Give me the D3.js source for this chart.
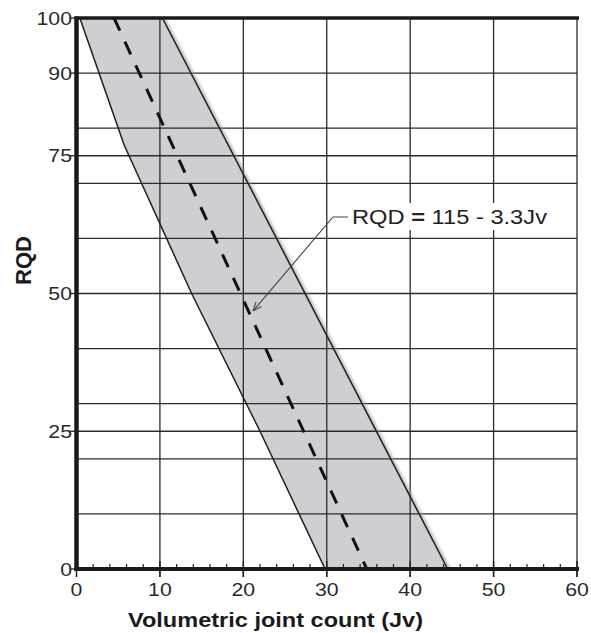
<!DOCTYPE html>
<html>
<head>
<meta charset="utf-8">
<script src="https://cdn.jsdelivr.net/npm/d3@7/dist/d3.min.js"></script>
<style>
  html, body { margin: 0; padding: 0; background: #fff; }
  svg { display: block; }
  text { font-family: "Liberation Sans", Arial, sans-serif; }
</style>
</head>
<body>
<svg id="chart" width="591" height="633"></svg>
<script>
// ---- data ----
const xTickValues = [0, 10, 20, 30, 40, 50, 60];
const xMinorTicks = [2,4,6,8,12,14,16,18,22,24,26,28,32,34,36,38,42,44,46,48,52,54,56,58];
const yTickValues = [0, 25, 50, 75, 90, 100];
const yGridValues = [0, 10, 20, 25, 30, 40, 50, 60, 70, 75, 80, 90, 100];
const xGridValues = [10, 20, 30, 40, 50, 60];

// lower-left boundary of the band
const lowerJv  = [0.4, 5.7, 13.8, 22.0, 29.8];
const lowerRQD = [100, 77, 50, 25, 0];
// upper-right boundary of the band
const upperJv  = [10.3, 44.5];
const upperRQD = [100, 0];
// mean relation RQD = 115 - 3.3Jv
const trendJv  = [4.5, 34.8];
const trendRQD = [100, 0];

const equationLabel = ["RQD ", "=", " 115 - 3.3Jv"];
const xTitle = "Volumetric joint count (Jv)";
const yTitle = "RQD";

// ---- layout ----
const svg = d3.select("#chart");
const x = d3.scaleLinear().domain([0, 60]).range([76.5, 577]);
const y = d3.scaleLinear().domain([0, 100]).range([569, 18]);

const defs = svg.append("defs");
defs.append("filter").attr("id", "blur").append("feGaussianBlur").attr("stdDeviation", 1.2);
defs.append("marker").attr("id", "arrow")
  .attr("viewBox", "0 0 10 10").attr("refX", 10).attr("refY", 5)
  .attr("markerWidth", 9).attr("markerHeight", 9).attr("orient", "auto")
  .attr("markerUnits", "userSpaceOnUse")
  .append("path").attr("d", "M0,1 L10,5 L0,9").attr("fill", "none")
  .attr("stroke", "#444").attr("stroke-width", 1.2);

// band polygon
const lowerPts = lowerJv.map((v, i) => [v, lowerRQD[i]]);
const upperPts = upperJv.map((v, i) => [v, upperRQD[i]]);
const bandPts = lowerPts.concat(upperPts.slice().reverse());
const line = d3.line().x(d => x(d[0])).y(d => y(d[1]));

svg.append("path").attr("d", line(bandPts) + "Z").attr("fill", "#cfcfd3");

// gridlines
svg.append("g").selectAll("line").data(yGridValues).join("line")
  .attr("x1", x(0)).attr("x2", x(60))
  .attr("y1", d => y(d)).attr("y2", d => y(d))
  .attr("stroke", "#2b2b2b").attr("stroke-width", 1.3);
svg.append("g").selectAll("line").data(xGridValues).join("line")
  .attr("x1", d => x(d)).attr("x2", d => x(d))
  .attr("y1", y(100)).attr("y2", y(0) + 8)
  .attr("stroke", "#2b2b2b").attr("stroke-width", 1.3);

// label background
svg.append("rect").attr("x", 349).attr("y", 203).attr("width", 202).attr("height", 27).attr("fill", "#fff");

// band edges
svg.append("path").attr("d", line(upperPts)).attr("fill", "none")
  .attr("stroke", "#999").attr("stroke-width", 3).attr("opacity", 0.6)
  .attr("transform", "translate(1.5,0)").attr("filter", "url(#blur)");
svg.append("path").attr("d", line(lowerPts)).attr("fill", "none")
  .attr("stroke", "#1e1e1e").attr("stroke-width", 1.5);
svg.append("path").attr("d", line(upperPts)).attr("fill", "none")
  .attr("stroke", "#1e1e1e").attr("stroke-width", 1.5);

// trend (dashed)
svg.append("path").attr("d", line(trendJv.map((v, i) => [v, trendRQD[i]])))
  .attr("fill", "none").attr("stroke", "#111").attr("stroke-width", 3)
  .attr("stroke-dasharray", "14,12");

// x axis minor ticks
svg.append("g").selectAll("line").data(xMinorTicks).join("line")
  .attr("x1", d => x(d)).attr("x2", d => x(d))
  .attr("y1", y(0) - 5).attr("y2", y(0))
  .attr("stroke", "#222").attr("stroke-width", 1.2);
svg.append("g").selectAll("line").data(xTickValues).join("line")
  .attr("x1", d => x(d)).attr("x2", d => x(d))
  .attr("y1", y(0) - 8).attr("y2", y(0) + 8)
  .attr("stroke", "#222").attr("stroke-width", 1.5);

// y ticks
svg.append("g").selectAll("line").data(yTickValues).join("line")
  .attr("x1", x(0) - 7).attr("x2", x(0))
  .attr("y1", d => y(d)).attr("y2", d => y(d))
  .attr("stroke", "#222").attr("stroke-width", 1.3);

// frame
svg.append("line").attr("x1", x(0) - 2).attr("x2", x(60) + 2).attr("y1", y(100)).attr("y2", y(100))
  .attr("stroke", "#1a1a1a").attr("stroke-width", 3.5);
svg.append("line").attr("x1", x(0)).attr("x2", x(0)).attr("y1", y(100) - 1.5).attr("y2", y(0) + 2)
  .attr("stroke", "#1a1a1a").attr("stroke-width", 4.5);
svg.append("line").attr("x1", x(0) - 2).attr("x2", x(60) + 2).attr("y1", y(0)).attr("y2", y(0))
  .attr("stroke", "#1a1a1a").attr("stroke-width", 4);

// tick labels (slightly widened glyphs like the reference)
svg.append("g").selectAll("text").data(xTickValues).join("text")
  .attr("transform", d => `translate(${x(d)},596) scale(1.15,1)`)
  .attr("text-anchor", "middle").attr("font-size", 18.5).attr("fill", "#2a2a2a")
  .text(d => d);
svg.append("g").selectAll("text").data(yTickValues).join("text")
  .attr("transform", d => `translate(72,${y(d) + 6.5}) scale(1.15,1)`)
  .attr("text-anchor", "end").attr("font-size", 18.5).attr("fill", "#2a2a2a")
  .text(d => d);

// axis titles
svg.append("text").attr("x", 128).attr("y", 627)
  .attr("textLength", 295).attr("lengthAdjust", "spacingAndGlyphs")
  .attr("font-size", 20).attr("font-weight", "bold").attr("fill", "#1a1a1a").text(xTitle);
svg.append("text").attr("transform", "translate(31,285) rotate(-90)")
  .attr("textLength", 49).attr("lengthAdjust", "spacingAndGlyphs")
  .attr("font-size", 22).attr("font-weight", "bold").attr("fill", "#1a1a1a").text(yTitle);

// equation label + arrow
const lbl = svg.append("text").attr("x", 352).attr("y", 224).attr("font-size", 20).attr("fill", "#222")
  .attr("textLength", 195).attr("lengthAdjust", "spacingAndGlyphs");
lbl.selectAll("tspan").data(equationLabel).join("tspan")
  .attr("font-weight", (d, i) => i === 1 ? "bold" : "normal")
  .text(d => d);
svg.append("path").attr("d", "M348,217 L333,217 L253,311")
  .attr("fill", "none").attr("stroke", "#444").attr("stroke-width", 1.1)
  .attr("marker-end", "url(#arrow)");
</script>
</body>
</html>
